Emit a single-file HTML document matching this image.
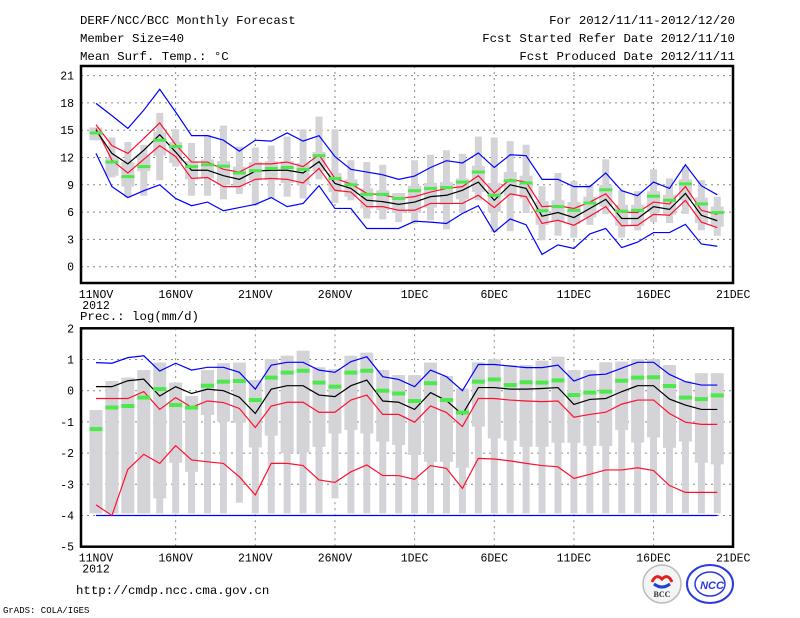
<!DOCTYPE html>
<html><head><meta charset="utf-8"><style>
html,body{margin:0;padding:0;background:#fff;}
svg{display:block;font-family:"Liberation Mono",monospace;}
</style></head><body>
<svg id="c" width="800" height="618" viewBox="0 0 800 618" xmlns="http://www.w3.org/2000/svg">
<text x="80" y="24" font-size="12.4">DERF/NCC/BCC Monthly Forecast</text>
<text x="80" y="42" font-size="12.4">Member Size=40</text>
<text x="80" y="60" font-size="12.4">Mean Surf. Temp.: °C</text>
<text x="735" y="24" font-size="12.4" text-anchor="end">For 2012/11/11-2012/12/20</text>
<text x="735" y="42" font-size="12.4" text-anchor="end">Fcst Started Refer Date 2012/11/10</text>
<text x="735" y="60" font-size="12.4" text-anchor="end">Fcst Produced Date 2012/11/11</text>
<text x="80" y="320" font-size="12.4">Prec.: log(mm/d)</text>
<text x="76" y="594" font-size="12.4">http://cmdp.ncc.cma.gov.cn</text>
<text x="3" y="613" font-size="9">GrADS: COLA/IGES</text>
<g>
<circle cx="662" cy="584" r="19" fill="#f4f4f4" stroke="#bbb" stroke-width="1.5"/>
<path d="M652 582 q4 -9 10 -3 q6 -6 10 3" fill="none" stroke="#e02020" stroke-width="3"/>
<path d="M654 584 q8 6 16 0" fill="none" stroke="#2040d0" stroke-width="3"/>
<text x="662" y="597" font-size="8" font-family="Liberation Serif,serif" font-weight="bold" text-anchor="middle" fill="#333">BCC</text>
</g>
<g>
<ellipse cx="710" cy="584" rx="23" ry="19" fill="#fff" stroke="#2a3adf" stroke-width="2"/>
<ellipse cx="710" cy="584" rx="15" ry="12" fill="none" stroke="#2a3adf" stroke-width="1.5"/>
<text x="712" y="589" font-size="11" font-family="Liberation Sans,sans-serif" font-weight="bold" font-style="italic" text-anchor="middle" fill="#2a3adf">NCC</text>
</g>
</svg>
<script>
const days=["11NOV","16NOV","21NOV","26NOV","1DEC","6DEC","11DEC","16DEC","21DEC"];
const tTicks=[0,3,6,9,12,15,18,21];
const pTicks=[-5,-4,-3,-2,-1,0,1,2];
const tBlueHi=[17.95,16.6,15.2,17.2,19.5,17,14.4,14.4,13.9,12.7,13.9,13.8,14.7,13.8,14.4,12.1,10.7,10.4,10.1,9.6,9.96,10.9,11.65,11.4,12.5,10.9,12.3,12.2,9.6,9.6,8.8,8.8,10.3,8.35,7.8,9.3,8.6,11.2,8.9,7.9];
const tBlueLo=[12.45,8.8,7.6,8.35,9.0,7.5,6.7,7.1,6.15,6.5,6.85,7.6,6.6,6.95,8.9,6.4,6.4,4.2,4.2,4.2,5.0,4.9,4.75,5.85,6.7,3.8,5.25,4.6,1.35,2.4,2.0,3.6,4.2,2.1,2.7,3.75,3.75,4.65,2.5,2.25];
const tMean=[15.0,12.45,11.3,12.8,14.5,12.6,10.6,10.6,10.0,9.6,10.5,10.6,10.6,10.3,11.55,9.15,8.6,7.3,7.15,6.85,7.1,7.7,7.85,8.4,9.3,7.3,9.0,8.6,5.55,5.95,5.4,6.4,7.4,5.3,5.3,6.6,6.3,8.05,5.65,5.05];
const tRedHi=[15.6,13.3,12.45,14.1,15.8,13.4,11.5,11.5,10.7,10.4,11.3,11.3,11.5,11.0,12.3,9.7,9.1,8.05,7.9,7.5,7.7,8.2,8.6,8.8,10.0,8.1,9.6,9.3,6.6,6.7,6.4,7.1,8.0,6.0,5.95,7.1,6.9,8.8,6.2,5.75];
const tRedLo=[15.2,11.7,10.3,11.8,13.3,12.1,9.7,9.8,8.8,8.8,9.6,9.7,9.6,9.2,10.8,8.4,8.2,6.6,6.6,6.2,6.2,6.95,6.95,6.95,7.85,6.5,8.0,7.7,4.75,5.1,4.55,5.55,6.6,4.5,4.55,5.75,5.65,7.3,4.9,4.3];
const tGreen=[14.7,11.5,9.9,11.0,13.9,13.2,11.0,11.2,11.05,10.3,10.55,10.8,10.9,10.7,12.2,9.7,9.0,7.95,7.95,7.5,8.35,8.6,8.7,9.3,10.4,7.85,9.45,9.2,6.15,6.6,6.2,7.0,8.45,6.1,6.2,7.75,7.3,9.1,6.9,5.95];
const tWhHi=[15.3,14.2,13.7,13.4,16.9,15.1,13.6,14.5,15.5,13.2,13.1,13.3,14.3,15.1,16.5,15.1,11.7,11.5,11.2,8.1,11.7,12.3,12.8,12.4,14.3,14.2,13.8,13.4,8.85,10.3,9.4,9.0,11.8,8.4,8.3,10.7,9.7,11.0,9.5,7.7];
const tWhLo=[13.9,9.8,7.6,7.8,9.5,11.0,7.8,7.8,7.4,8.0,6.7,7.5,7.7,7.5,9.6,7.0,7.3,5.3,5.2,4.9,4.75,5.1,4.1,5.9,7.3,3.8,3.9,5.9,2.9,3.4,3.2,4.6,5.8,3.2,4.0,4.9,4.8,5.8,4.0,3.4];
const tBoxHi=[15.3,12.0,11.5,12.3,14.8,13.7,11.6,11.8,11.6,11.0,11.5,11.6,11.6,11.4,12.6,10.3,9.6,8.6,8.4,8.1,8.9,9.2,9.3,9.7,11.1,9.2,10.4,10.0,7.2,7.3,7.1,7.7,9.0,6.8,6.8,8.3,7.9,9.6,7.6,6.6];
const tBoxLo=[13.9,10.0,8.8,10.5,12.2,11.4,9.6,9.7,9.0,8.8,9.5,9.5,9.2,9.0,10.5,8.2,7.7,6.4,6.2,5.9,5.9,6.5,6.8,7.4,8.2,6.0,7.8,7.5,4.6,5.0,4.7,5.4,6.6,4.5,4.5,6.0,5.7,7.3,4.8,4.4];
const pBlueHi=[0.9,0.88,1.06,1.12,0.63,0.88,0.66,0.75,0.75,0.59,0.05,0.82,0.91,0.91,0.66,0.59,0.93,1.09,0.45,0.36,0.13,0.66,0.45,0.0,0.84,0.84,0.79,0.74,0.74,0.82,0.31,0.5,0.53,0.72,0.91,0.91,0.52,0.29,0.18,0.18];
const pBlueLo=[-4,-4,-4,-4,-4,-4,-4,-4,-4,-4,-4,-4,-4,-4,-4,-4,-4,-4,-4,-4,-4,-4,-4,-4,-4,-4,-4,-4,-4,-4,-4,-4,-4,-4,-4,-4,-4,-4,-4,-4];
const pMean=[0.13,0.13,0.32,0.37,-0.17,0.13,-0.09,0.05,0.0,-0.21,-0.73,0.05,0.16,0.16,-0.14,-0.19,0.16,0.34,-0.33,-0.37,-0.6,-0.06,-0.32,-0.76,0.1,0.1,0.05,0.05,0.07,0.1,-0.44,-0.28,-0.25,-0.03,0.16,0.16,-0.27,-0.46,-0.6,-0.6];
const pRedHi=[-0.25,-0.25,-0.25,-0.03,-0.6,-0.22,-0.53,-0.33,-0.38,-0.57,-1.18,-0.49,-0.37,-0.37,-0.69,-0.69,-0.3,-0.14,-0.76,-0.76,-1.01,-0.49,-0.7,-1.15,-0.25,-0.25,-0.3,-0.33,-0.35,-0.33,-0.85,-0.76,-0.69,-0.43,-0.3,-0.3,-0.73,-1.01,-1.08,-1.08];
const pRedLo=[-3.66,-4.0,-2.52,-2.04,-2.33,-1.76,-2.22,-2.28,-2.33,-2.76,-3.34,-2.33,-2.33,-2.4,-2.86,-2.94,-2.6,-2.38,-2.72,-2.72,-2.84,-2.4,-2.49,-3.13,-2.17,-2.19,-2.25,-2.33,-2.4,-2.44,-2.81,-2.68,-2.54,-2.54,-2.47,-2.56,-3.04,-3.26,-3.26,-3.26];
const pGreen=[-1.23,-0.54,-0.49,-0.22,0.05,-0.46,-0.54,0.16,0.29,0.31,-0.3,0.42,0.58,0.64,0.26,0.13,0.58,0.64,0.0,-0.09,-0.33,0.24,-0.3,-0.7,0.29,0.36,0.18,0.27,0.26,0.33,-0.14,-0.06,-0.03,0.32,0.42,0.43,0.15,-0.22,-0.27,-0.15];
const pWhHi=[-0.62,0.31,0.42,0.66,0.9,0.26,-0.17,0.66,0.88,0.9,0.34,1.01,1.12,1.28,0.75,0.69,1.12,1.22,0.66,0.5,0.5,0.9,0.47,0.07,0.91,1.01,0.82,0.82,0.96,1.09,0.66,0.66,0.91,0.93,1.01,1.01,0.82,0.31,0.56,0.56];
const pWhLo=[-3.93,-3.93,-3.93,-3.93,-3.93,-3.93,-3.93,-3.93,-3.93,-3.59,-3.93,-3.93,-3.93,-3.93,-3.93,-3.45,-3.93,-3.93,-3.93,-3.93,-3.93,-3.93,-3.93,-3.93,-3.93,-3.93,-3.93,-3.93,-3.93,-3.93,-3.93,-3.93,-3.93,-3.93,-3.93,-3.93,-3.93,-3.93,-3.93,-3.93];
const pBoxLo=[-3.93,-3.93,-3.93,-3.93,-3.45,-2.31,-2.6,-0.78,-0.99,-1.03,-1.82,-1.44,-2.0,-1.98,-1.8,-1.37,-1.26,-1.37,-1.63,-1.74,-2.06,-2.28,-2.28,-2.47,-1.15,-1.53,-1.6,-1.8,-1.8,-1.67,-1.67,-1.77,-1.77,-1.26,-1.66,-1.5,-1.83,-1.63,-2.31,-2.36];

const NS="http://www.w3.org/2000/svg";
const svg=document.getElementById('c');
const X=d=>96+15.93*d;
const Yt=v=>266.7-9.1*v;
const Yb=v=>390.7-31.2*v;
function mk(tag,attrs,parent){const e=document.createElementNS(NS,tag);for(const k in attrs)e.setAttribute(k,attrs[k]);(parent||svg).appendChild(e);return e;}
function panel(name,top,bot,Y,ticks,boxes,lines,greens,greenH){
  const g=mk('g',{});
  
  
  // grid
  ticks.forEach(t=>{const y=Y(t);if(y>top+1&&y<bot-1){const l=mk('line',{x1:81,x2:733,y1:y,y2:y,stroke:'#888','stroke-dasharray':'2,4','stroke-width':1},g);
    
    }
    const tx=mk('text',{x:74,y:y+4,'font-size':11.5,'text-anchor':'end'},g);tx.textContent=String(t);
    
    });
  days.forEach((dl,i)=>{const x=X(i*5);if(i>0&&i<days.length-1){const l=mk('line',{x1:x,x2:x,y1:top,y2:bot,stroke:'#888','stroke-dasharray':'2,4','stroke-width':1},g);
    
    }
    const tx=mk('text',{x:x,y:bot+15,'font-size':11.5,'text-anchor':'middle'},g);tx.textContent=dl;
    
    });
  const yr=mk('text',{x:X(0),y:bot+26,'font-size':11.5,'text-anchor':'middle'},g);yr.textContent='2012';
  
  
  // boxes
  boxes.whHi.forEach((h,d)=>{
    const x=X(d);
    const w=mk('rect',{x:x-3.5,y:Y(h),width:7,height:Math.max(1,Y(boxes.whLo[d])-Y(h)),fill:'#d4d4d8'},g);
    
    
    const bh=boxes.boxHi?boxes.boxHi[d]:h;
    const b=mk('rect',{x:x-6.5,y:Y(bh),width:13,height:Math.max(1,Y(boxes.boxLo[d])-Y(bh)),fill:'#d4d4d8'},g);
    
    
  });
  lines.forEach(([arr,col,nm])=>{
    const p=mk('polyline',{points:arr.map((v,d)=>X(d)+','+Y(v)).join(' '),fill:'none',stroke:col,'stroke-width':1.2},g);
    
    
  });
  greens.forEach((v,d)=>{
    const r=mk('rect',{x:X(d)-6.5,y:Y(v)-greenH/2,width:13,height:greenH,fill:'#4ce84c'},g);
    
    
  });
  const f=mk('rect',{x:81,y:top,width:652,height:bot-top,fill:'none',stroke:'#000','stroke-width':2.5},g);
  
  
}
panel('temperature-panel',66,283,Yt,tTicks,{whHi:tWhHi,whLo:tWhLo,boxHi:tBoxHi,boxLo:tBoxLo},
  [[tBlueHi,'#0000ff','blue-upper-line'],[tBlueLo,'#0000ff','blue-lower-line'],[tRedHi,'#ff1030','red-upper-line'],[tRedLo,'#ff1030','red-lower-line'],[tMean,'#000','mean-line']],tGreen,3);
panel('precip-panel',328.3,546.7,Yb,pTicks,{whHi:pWhHi,whLo:pWhLo,boxLo:pBoxLo},
  [[pBlueHi,'#0000ff','blue-upper-line'],[pBlueLo,'#0000ff','blue-lower-line'],[pRedHi,'#ff1030','red-upper-line'],[pRedLo,'#ff1030','red-lower-line'],[pMean,'#000','mean-line']],pGreen,4);
</script>
</body></html>
